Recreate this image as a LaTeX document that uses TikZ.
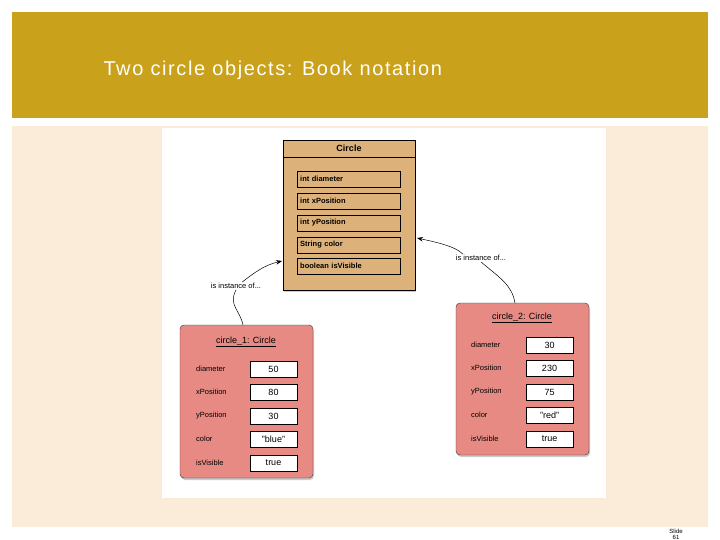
\documentclass[tikz,border=0pt]{standalone}
\usepackage{fontspec}
\setmainfont{Liberation Sans}
\newfontfamily\titlefont[LetterSpace=8]{Liberation Sans}
\usetikzlibrary{arrows.meta,shadows}
\definecolor{gold}{HTML}{C9A11A}
\definecolor{cream}{HTML}{FBEBD9}
\definecolor{tan}{HTML}{DDB27A}
\definecolor{salmon}{HTML}{E88A84}
\tikzset{
 field/.style={draw=black,fill=tan,minimum width=103pt,minimum height=16pt,inner sep=2pt,anchor=west,font=\fontsize{7.5}{8}\selectfont\bfseries,text width=97pt,align=left},
 val/.style={draw=black,fill=white,minimum width=47pt,minimum height=16pt,inner sep=0pt,font=\fontsize{9}{10}\selectfont},
 lab/.style={anchor=west,font=\fontsize{7.5}{8}\selectfont,inner sep=0pt},
 obj/.style={draw=black!80,fill=salmon,rounded corners=4pt,drop shadow={shadow xshift=1pt,shadow yshift=-2pt,opacity=0.4}},
 conn/.style={black,line width=0.5pt},
 inst/.style={font=\fontsize{7.5}{8}\selectfont,inner sep=1pt}
}
\begin{document}
\begin{tikzpicture}[x=1pt,y=-1pt]
\useasboundingbox (0,0) rectangle (720,540);
\fill[white] (0,0) rectangle (720,540);
\fill[gold] (12,12) rectangle (708,118);
\node[anchor=west,text=white,font=\titlefont\fontsize{20}{22}\selectfont] (title) at (100,70) {Two circle objects: Book notation};
\fill[cream] (12,126) rectangle (708,527);
\fill[white] (162,128) rectangle (606,498);
% class
\draw[fill=tan,drop shadow={shadow xshift=1pt,shadow yshift=-2pt,opacity=0.4}] (283,140) rectangle (415,290);
\draw (283,157) -- (415,157);
\node[font=\fontsize{9}{10}\selectfont\bfseries] (cls) at (349,148) {Circle};
\node[field] (f1) at (297,179) {int diameter};
\node[field] (f2) at (297,201) {int xPosition};
\node[field] (f3) at (297,223) {int yPosition};
\node[field] (f4) at (297,245) {String color};
\node[field] (f5) at (297,266) {boolean isVisible};
\coordinate (clsL) at (282,261);
\coordinate (clsR) at (417,238);
% circle_1
\draw[obj] (180,325) rectangle (313,478);
\node[font=\fontsize{9}{10}\selectfont] (o1) at (246,342) {\underline{circle\_1: Circle}};
\foreach \y/\l/\v [count=\i] in {369/diameter/50,392/xPosition/80,416/yPosition/30,439/color/"blue",463/isVisible/true}{
 \node[lab] (a\i) at (196,\y) {\l};
 \node[val] (av\i) at (273.5,\y) {\v};
}
% circle_2
\draw[obj] (456,303) rectangle (589,455);
\node[font=\fontsize{9}{10}\selectfont] (o2) at (522,318) {\underline{circle\_2: Circle}};
\foreach \y/\l/\v [count=\i] in {345/diameter/30,368/xPosition/230,392/yPosition/75,415/color/"red",439/isVisible/true}{
 \node[lab] (b\i) at (471,\y) {\l};
 \node[val] (bv\i) at (549.5,\y) {\v};
}
% connectors
\node[inst] (i1) at (236,286) {is instance of...};
\node[inst] (i2) at (481,258) {is instance of...};
\coordinate (o1t) at (243,325);
\coordinate (o2t) at (515,303);
\draw[conn] (o1t) .. controls (240,310) and (228,305) .. (i1.south);
\draw[conn,-{Stealth[length=6pt]}] (i1.north east) ++(-20,0) .. controls (255,272) and (265,265) .. (clsL);
\draw[conn] (o2t) .. controls (512,285) and (500,278) .. (i2.south);
\draw[conn,-{Stealth[length=6pt]}] (i2.north west) ++(8,0) .. controls (455,246) and (435,242) .. (clsR);
\node[font=\fontsize{6}{6}\selectfont,align=center] (slide) at (676,534) {Slide\\61};
\end{tikzpicture}
\end{document}
